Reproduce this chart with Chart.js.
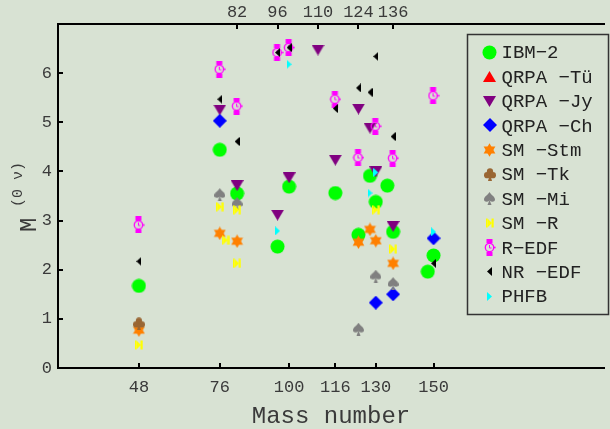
<!DOCTYPE html>
<html>
<head>
<meta charset="utf-8">
<script src="https://cdn.jsdelivr.net/npm/chart.js@4.4.1/dist/chart.umd.min.js"></script>
<style>
  html, body { margin: 0; padding: 0; background: #d8e2d3; }
  #wrap { width: 610px; height: 429px; }
</style>
</head>
<body>
<div id="wrap"><canvas id="chart" width="610" height="429"></canvas></div>
<script>
// tick labels
var bottomTicks = [48, 76, 100, 116, 130, 150];
var topTicks = [82, 96, 110, 124, 136];
var yTicks = [0, 1, 2, 3, 4, 5, 6];

// mass numbers / matrix elements per model
var ibm2A = [48, 76, 82, 96, 100, 116, 124, 128, 130, 134, 136, 148, 150];
var ibm2M = [1.67, 4.44, 3.55, 2.47, 3.69, 3.56, 2.71, 3.91, 3.38, 3.71, 2.77, 1.96, 2.29];

var qrpaTuA = [];
var qrpaTuM = [];

var qrpaJyA = [76, 82, 96, 100, 110, 116, 124, 128, 130, 136];
var qrpaJyM = [5.25, 3.71, 3.11, 3.87, 6.47, 4.23, 5.27, 4.88, 3.99, 2.88];

var qrpaChA = [76, 130, 136, 150];
var qrpaChM = [5.03, 1.33, 1.50, 2.64];

var smStmA = [48, 76, 82, 124, 128, 130, 136];
var smStmM = [0.77, 2.74, 2.58, 2.56, 2.82, 2.59, 2.13];

var smTkA = [48];
var smTkM = [0.90];

var smMiA = [76, 82, 124, 130, 136];
var smMiM = [3.53, 3.35, 0.79, 1.87, 1.72];

var smRA = [48, 76, 78, 82, 82, 130, 136];
var smRM = [0.47, 3.28, 2.60, 3.22, 2.13, 3.22, 2.42];

var rEdfA = [48, 76, 82, 96, 100, 116, 124, 130, 136, 150];
var rEdfM = [2.91, 6.08, 5.33, 6.42, 6.52, 5.47, 4.28, 4.92, 4.27, 5.54];

var nrEdfA = [48, 76, 82, 96, 100, 116, 124, 128, 130, 136, 150];
var nrEdfM = [2.17, 5.47, 4.61, 6.42, 6.52, 5.28, 5.70, 5.61, 6.34, 4.71, 2.13];

var phfbA = [96, 100, 128, 130, 150];
var phfbM = [2.79, 6.18, 3.56, 3.98, 2.77];

var BG = '#d8e2d3';
var FONT = "'Liberation Mono', 'DejaVu Sans Mono', monospace";
var TXT = '#3a3a3a';

// ---- marker images ----
function marker(w, h, draw) {
    var c = document.createElement('canvas');
    c.width = w; c.height = h;
    draw(c.getContext('2d'), w, h);
    return c;
}
function poly(g, pts) {
    g.beginPath();
    g.moveTo(pts[0][0], pts[0][1]);
    for (var i = 1; i < pts.length; i++) g.lineTo(pts[i][0], pts[i][1]);
    g.closePath();
    g.fill();
}
function disc(g, x, y, r) {
    g.beginPath(); g.arc(x, y, r, 0, Math.PI * 2); g.fill();
}

var mCircle = marker(15, 15, function(g) { g.fillStyle = '#00ff00'; disc(g, 7.5, 7.5, 7); });
var mUp = marker(13, 11, function(g) { g.fillStyle = '#ff0000'; poly(g, [[6.5, 0], [13, 11], [0, 11]]); });
var mDown = marker(13, 11, function(g) { g.fillStyle = '#800080'; poly(g, [[0, 0], [13, 0], [6.5, 11]]); });
var mDiamond = marker(14, 14, function(g) { g.fillStyle = '#0000ff'; poly(g, [[7, 0], [14, 7], [7, 14], [0, 7]]); });
var mHex = marker(13, 14, function(g) {
    g.fillStyle = '#ff8000';
    var cx = 6.5, cy = 7, R = 6.8, a, up = [], dn = [];
    for (var k = 0; k < 3; k++) {
        a = (-90 + k * 120) * Math.PI / 180;
        up.push([cx + R * Math.cos(a), cy + R * Math.sin(a)]);
        a = (90 + k * 120) * Math.PI / 180;
        dn.push([cx + R * Math.cos(a), cy + R * Math.sin(a)]);
    }
    poly(g, up); poly(g, dn);
});
var mClub = marker(12, 13, function(g) {
    g.fillStyle = '#996633';
    disc(g, 6, 3.3, 3.1); disc(g, 3.1, 7.2, 3.1); disc(g, 8.9, 7.2, 3.1);
    poly(g, [[6, 5.5], [8, 13], [4, 13]]);
});
var mSpade = marker(11, 13, function(g) {
    g.fillStyle = '#808080';
    g.beginPath();
    g.moveTo(5.5, 0);
    g.bezierCurveTo(7, 3, 11, 4.5, 11, 7.5);
    g.bezierCurveTo(11, 10, 7.5, 10.5, 5.5, 8.5);
    g.bezierCurveTo(3.5, 10.5, 0, 10, 0, 7.5);
    g.bezierCurveTo(0, 4.5, 4, 3, 5.5, 0);
    g.fill();
    poly(g, [[5.5, 8], [7.5, 13], [3.5, 13]]);
});
var mSmR = marker(8, 10, function(g) {
    g.fillStyle = '#ffff00';
    g.fillRect(0, 0.5, 1.5, 9);
    poly(g, [[1.5, 0.5], [6, 5], [1.5, 9.5]]);
    g.fillRect(5.5, 0.5, 2.2, 9);
});
var mWatch = marker(12, 17, function(g) {
    g.fillStyle = '#ff00ff'; g.strokeStyle = '#ff00ff';
    g.fillRect(2.5, 0, 6, 4);
    g.fillRect(2.5, 13, 6, 4);
    g.lineWidth = 1.3;
    g.beginPath(); g.arc(5.5, 8.5, 4.2, 0, Math.PI * 2); g.stroke();
    g.lineWidth = 1;
    g.beginPath(); g.moveTo(5.5, 6); g.lineTo(5.5, 9); g.lineTo(7.5, 9); g.stroke();
    g.fillRect(9.8, 7.7, 1.8, 1.6);
});
var mLeft = marker(5, 9, function(g) { g.fillStyle = '#000000'; poly(g, [[5, 0], [0, 4.5], [5, 9]]); });
var mRight = marker(5, 9, function(g) { g.fillStyle = '#00ffff'; poly(g, [[0, 0], [5, 4.5], [0, 9]]); });

var series = [
    { label: 'IBM−2', xs: ibm2A, ys: ibm2M, m: mCircle },
    { label: 'QRPA −Tü', xs: qrpaTuA, ys: qrpaTuM, m: mUp },
    { label: 'QRPA −Jy', xs: qrpaJyA, ys: qrpaJyM, m: mDown },
    { label: 'QRPA −Ch', xs: qrpaChA, ys: qrpaChM, m: mDiamond },
    { label: 'SM −Stm', xs: smStmA, ys: smStmM, m: mHex },
    { label: 'SM −Tk', xs: smTkA, ys: smTkM, m: mClub },
    { label: 'SM −Mi', xs: smMiA, ys: smMiM, m: mSpade },
    { label: 'SM −R', xs: smRA, ys: smRM, m: mSmR },
    { label: 'R−EDF', xs: rEdfA, ys: rEdfM, m: mWatch },
    { label: 'NR −EDF', xs: nrEdfA, ys: nrEdfM, m: mLeft },
    { label: 'PHFB', xs: phfbA, ys: phfbM, m: mRight }
];

function toPoints(xs, ys) {
    return xs.map(function(x, i) { return { x: x, y: ys[i] }; });
}

// ---- plugins ----
var background = {
    id: 'background',
    beforeDraw: function(chart) {
        var ctx = chart.ctx;
        ctx.save();
        ctx.fillStyle = BG;
        ctx.fillRect(0, 0, chart.width, chart.height);
        ctx.restore();
    }
};

// tick marks point into the plot
var inwardTicks = {
    id: 'inwardTicks',
    afterDraw: function(chart) {
        var ctx = chart.ctx, a = chart.chartArea, s = chart.scales;
        ctx.save();
        ctx.strokeStyle = '#000';
        ctx.lineWidth = 2;
        ctx.beginPath();
        s.x.ticks.forEach(function(t) {
            var px = Math.round(s.x.getPixelForValue(t.value));
            ctx.moveTo(px, a.bottom); ctx.lineTo(px, a.bottom - 5);
        });
        s.x2.ticks.forEach(function(t) {
            var px = Math.round(s.x2.getPixelForValue(t.value));
            ctx.moveTo(px, a.top); ctx.lineTo(px, a.top + 5);
        });
        s.y.ticks.forEach(function(t) {
            var py = Math.round(s.y.getPixelForValue(t.value));
            ctx.moveTo(a.left, py); ctx.lineTo(a.left + 5, py);
        });
        ctx.stroke();

        // y-axis title with superscript
        ctx.fillStyle = TXT;
        ctx.translate(36, 232);
        ctx.rotate(-Math.PI / 2);
        ctx.textBaseline = 'alphabetic';
        ctx.textAlign = 'left';
        ctx.font = '24px ' + FONT;
        ctx.fillText('M', 0, 0);
        ctx.font = '15px ' + FONT;
        ctx.fillText('(0 ν)', 25, -14);
        ctx.restore();
    }
};

var boxLegend = {
    id: 'boxLegend',
    afterDraw: function(chart) {
        var ctx = chart.ctx;
        var left = 467.5, top = 34.5, w = 141, h = 280;
        ctx.save();
        ctx.fillStyle = BG;
        ctx.fillRect(left, top, w, h);
        ctx.strokeStyle = '#333';
        ctx.lineWidth = 1.5;
        ctx.strokeRect(left, top, w, h);
        ctx.beginPath();
        ctx.rect(left + 1, top + 1, 124, h - 2);
        ctx.clip();
        ctx.font = '19px ' + FONT;
        ctx.fillStyle = '#222';
        ctx.textBaseline = 'middle';
        ctx.textAlign = 'left';
        series.forEach(function(s, i) {
            var y = 52.3 + i * 24.4;
            ctx.drawImage(s.m, Math.round(489.5 - s.m.width / 2), Math.round(y - s.m.height / 2));
            ctx.fillText(s.label, 501.5, y + 1);
        });
        ctx.restore();
    }
};

var tickFont = { family: FONT, size: 17 };

new Chart(document.getElementById('chart'), {
    type: 'scatter',
    data: {
        datasets: series.map(function(s, i) {
            return {
                label: s.label,
                data: toPoints(s.xs, s.ys),
                pointStyle: s.m,
                pointRadius: 5,
                pointHoverRadius: 5,
                showLine: false,
                order: -i,
                xAxisID: 'x',
                yAxisID: 'y'
            };
        })
    },
    options: {
        responsive: false,
        animation: false,
        layout: { padding: 0 },
        plugins: {
            legend: { display: false },
            tooltip: { enabled: false }
        },
        scales: {
            x: {
                type: 'linear',
                position: 'bottom',
                min: 20,
                max: 209,
                afterBuildTicks: function(scale) {
                    scale.ticks = bottomTicks.map(function(v) { return { value: v }; });
                },
                afterFit: function(scale) { scale.height = 61; },
                ticks: { font: tickFont, color: TXT, padding: 9, autoSkip: false, maxRotation: 0, minRotation: 0 },
                grid: { display: false, drawTicks: false },
                border: { display: true, color: '#000', width: 2 },
                title: {
                    display: true,
                    text: 'Mass number',
                    color: TXT,
                    font: { family: FONT, size: 24, lineHeight: 1 },
                    padding: { top: 0, bottom: 0 }
                }
            },
            x2: {
                type: 'linear',
                position: 'top',
                min: 20,
                max: 209,
                afterBuildTicks: function(scale) {
                    scale.ticks = topTicks.map(function(v) { return { value: v }; });
                },
                afterFit: function(scale) { scale.height = 24; },
                ticks: { font: tickFont, color: TXT, padding: 1, autoSkip: false, maxRotation: 0, minRotation: 0 },
                grid: { display: false, drawTicks: false },
                border: { display: true, color: '#000', width: 2 }
            },
            y: {
                type: 'linear',
                min: 0,
                max: 7,
                afterBuildTicks: function(scale) {
                    scale.ticks = yTicks.map(function(v) { return { value: v }; });
                },
                afterFit: function(scale) { scale.width = 58; },
                ticks: { font: tickFont, color: TXT, padding: 6 },
                grid: { display: false, drawTicks: false },
                border: { display: true, color: '#000', width: 2 }
            }
        }
    },
    plugins: [background, inwardTicks, boxLegend]
});
</script>
</body>
</html>
